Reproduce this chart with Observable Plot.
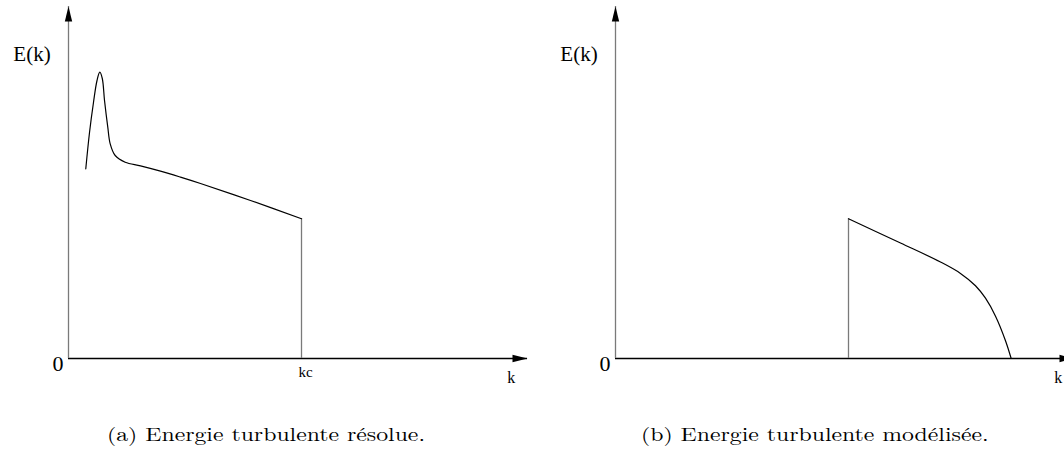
<!DOCTYPE html>
<html>
<head>
<meta charset="utf-8">
<script src="https://cdn.jsdelivr.net/npm/d3@7"></script>
<script src="https://cdn.jsdelivr.net/npm/@observablehq/plot@0.6"></script>
<style>
  html, body { margin: 0; padding: 0; background: #fff; overflow: hidden; }
  #fig { position: relative; width: 1064px; height: 456px; }
  #row { display: flex; width: 1064px; }
  .panel { width: 532px; height: 400px; overflow: hidden; }
  .caption {
    position: absolute; top: 424px; white-space: nowrap;
    font-family: "Latin Modern Roman", "Liberation Serif", serif;
    font-size: 19px; line-height: 19px; color: #000;
    transform: scaleX(1.25); transform-origin: 0 0;
  }
</style>
</head>
<body>
<div id="fig">
  <div id="row"><div class="panel" id="a"></div><div class="panel" id="b"></div></div>
  <div class="caption" style="left:107px">(a) Energie turbulente résolue.</div>
  <div class="caption" style="left:641px">(b) Energie turbulente modélisée.</div>
</div>
<script>
// Resolved part of the energy spectrum E(k), up to the cut-off wavenumber kc
const resolvedK = [3.71, 4.51, 5.36, 6.12, 6.72, 7.25, 7.73, 8.43, 8.95, 10.02, 12.17, 15.45, 19.74, 24.03, 28.33, 39.06, 50];
const resolvedE = [53.89, 64.2, 72.73, 78.98, 81.34, 79.55, 73.3, 65.71, 60.99, 57.67, 55.77, 54.74, 53.24, 51.53, 49.72, 44.89, 39.7];

// Modelled (subgrid) part of the spectrum, beyond kc
const modelledK = [50, 61.16, 69.74, 74.03, 77.25, 79.4, 81.55, 83.69, 84.91];
const modelledE = [39.7, 32.81, 27.41, 24.18, 20.68, 17.13, 12.02, 5.06, 0];

// Cut-off wavenumber and the spectrum level there
const cutoffK = [50];
const cutoffE = [39.7];

// Axis extents (arrow tips) and label positions
const kAxisEnd = [98.5];
const eAxisEnd = [100];
const kLabelPos = [95];
const tickLabels = ["0", "kc", "k", "E(k)"];

const serif = "'Liberation Serif', 'Times New Roman', serif";

// Filled, elongated arrowhead with its tip at the origin, pointing up
const arrowHead = {
  draw(context) {
    context.moveTo(0, 0);
    context.lineTo(3.7, 15);
    context.lineTo(-3.7, 15);
    context.closePath();
  }
};

function spectrumPanel({k, e, marginLeft, kVisible, showCutoffLabel}) {
  const pts = k.map((v, i) => ({k: v, e: e[i]}));
  const innerWidth = kVisible * 4.66;
  const label = {fontFamily: serif, textAnchor: "middle", lineAnchor: "middle", fill: "black"};
  return Plot.plot({
    width: 532,
    height: 400,
    marginLeft,
    marginRight: 532 - marginLeft - innerWidth,
    marginTop: 6,
    marginBottom: 42,
    x: {domain: [0, kVisible], axis: null},
    y: {domain: [0, eAxisEnd[0]], axis: null},
    style: {background: "white", fontFamily: serif, color: "black"},
    marks: [
      // k axis with arrow
      Plot.ruleY([0], {x1: 0, x2: kAxisEnd[0], stroke: "black", strokeWidth: 1.3}),
      Plot.dot(kAxisEnd, {x: d => d, y: 0, symbol: arrowHead, fill: "black", rotate: 90}),
      // E(k) axis with arrow
      Plot.ruleX([0], {y1: 0, y2: eAxisEnd[0], stroke: "#7a7a7a", strokeWidth: 1.3}),
      Plot.dot(eAxisEnd, {x: 0, y: d => d, symbol: arrowHead, fill: "black", rotate: 0}),
      // vertical drop at the cut-off
      Plot.ruleX(cutoffK, {x: d => d, y1: 0, y2: cutoffE[0], stroke: "#7a7a7a", strokeWidth: 1.3}),
      // spectrum curve
      Plot.line(pts, {x: "k", y: "e", curve: "catmull-rom", stroke: "black", strokeWidth: 1.2}),
      // labels
      Plot.text([tickLabels[0]], {...label, x: 0, y: 0, text: d => d, fontSize: 22, dx: -10.5, dy: 5}),
      Plot.text([tickLabels[3]], {...label, x: 0, y: eAxisEnd[0], text: d => d, fontSize: 21, dx: -36.5, dy: 47.3}),
      Plot.text([tickLabels[2]], {...label, x: kLabelPos[0], y: 0, text: d => d, fontSize: 16, dy: 19.2}),
      showCutoffLabel
        ? Plot.text([tickLabels[1]], {...label, x: cutoffK[0], y: 0, text: d => d, fontSize: 15, dx: 4, dy: 13.9})
        : null
    ]
  });
}

document.getElementById("a").append(
  spectrumPanel({k: resolvedK, e: resolvedE, marginLeft: 68, kVisible: 98.5, showCutoffLabel: true})
);
document.getElementById("b").append(
  spectrumPanel({k: modelledK, e: modelledE, marginLeft: 83, kVisible: (532 - 83) / 4.66, showCutoffLabel: false})
);
</script>
</body>
</html>
